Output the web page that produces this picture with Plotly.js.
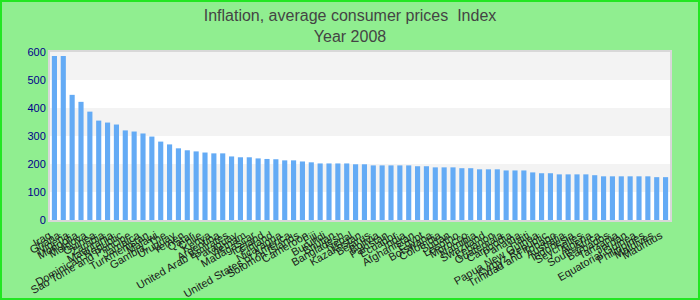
<!DOCTYPE html>
<html>
<head>
<meta charset="utf-8">
<script src="https://cdn.plot.ly/plotly-3.0.1.min.js"></script>
<style>
  html, body { margin: 0; padding: 0; background: #90ee90; }
  #chart { width: 696px; height: 296px; border: 2px solid #22e622; }
</style>
</head>
<body>
<div id="chart"></div>
<script>
var countries = ["Iraq","Ghana","Nigeria","Mongolia","Moldova","Guinea","Zambia","Mauritania",
  "Dominican Republic","Sao Tome and Principe","Jamaica","Turkmenistan","Malawi","Gambia, The",
  "Uruguay","Yemen","Qatar","Chile","Kenya","Argentina","United Arab Emirates","Paraguay",
  "Vietnam","Madagascar","Iceland","Finland","Nicaragua","United States of America",
  "Solomon Islands","Cameroon","Fiji","Burundi","Bhutan","Bangladesh","Nepal","Kazakhstan",
  "Belarus","Bolivia","Pakistan","Ecuador","India","Afghanistan","Egypt","Botswana","Colombia",
  "Sudan","Lesotho","Morocco","Namibia","Swaziland","Lebanon","Guatemala","Cambodia","Panama",
  "Haiti","Papua New Guinea","Kyrgyz Republic","Trinidad and Tobago","Australia","Indonesia",
  "Seychelles","Algeria","South Africa","Barbados","Tanzania","Jordan","Equatorial Guinea",
  "Philippines","Maldives","Mauritius"];
var values = [586,586,447,422,387,355,348,341,320,316,309,298,280,270,256,249,245,241,238,238,
  227,224,224,220,218,217,213,213,209,206,202,202,202,202,199,199,195,195,195,195,195,192,192,
  188,188,188,185,185,181,181,181,177,177,177,170,167,167,163,163,163,163,160,156,156,156,156,
  156,156,153,153];
var yTicks = [0,100,200,300,400,500,600];
var bands = [[100,200],[300,400],[500,600]];

var shapes = bands.map(function(b){
  return {type:'rect', xref:'paper', yref:'y', x0:0, x1:1, y0:b[0], y1:b[1],
          fillcolor:'#f3f3f3', line:{width:0}, layer:'below'};
});

Plotly.newPlot('chart', [{
  type:'bar', x:countries, y:values,
  marker:{color:'#64abf5'}
}], {
  width:696, height:296,
  paper_bgcolor:'#90ee90', plot_bgcolor:'#ffffff',
  margin:{l:48, r:28, t:50, b:78},
  title:{text:'Inflation, average consumer prices  Index<br>Year 2008',
         font:{family:'Liberation Sans, Arial, sans-serif', size:16, color:'#444'},
         x:0.5, xanchor:'center', yref:'container', y:0.935, yanchor:'middle'},
  bargap:0.42,
  shapes:shapes,
  xaxis:{type:'category', tickangle:-30, automargin:false, tickmode:'array', tickvals:countries,
         ticklabelstandoff:3, ticklabelshift:-5,
         tickfont:{family:'Liberation Sans, Arial, sans-serif', size:11, color:'#1a1a1a'},
         showline:true, linecolor:'#d8d8d8', linewidth:2, mirror:true, showgrid:false},
  yaxis:{range:[0,600], tickvals:yTicks, showgrid:false, zeroline:false,
         tickfont:{family:'Liberation Sans, Arial, sans-serif', size:11, color:'#00008b'},
         showline:true, linecolor:'#d8d8d8', linewidth:2, mirror:true},
  showlegend:false
}, {displayModeBar:false});
</script>
</body>
</html>
